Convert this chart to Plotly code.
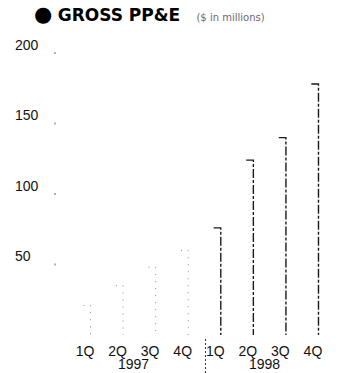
import plotly.graph_objects as go

# Gross property, plant & equipment by quarter ($ in millions)
quarters = ["1Q", "2Q", "3Q", "4Q", "1Q", "2Q", "3Q", "4Q"]
years = ["1997", "1997", "1997", "1997", "1998", "1998", "1998", "1998"]
gross_ppe = [21, 35, 48, 60, 76, 124, 140, 178]
y_ticks = [50, 100, 150, 200]
year_labels = ["1997", "1998"]

W, H = 339, 373
M_T, M_B = 40, 38
X_RANGE = [-2.61, 7.80]
Y_RANGE = [0, 209.2]

EDGE = 0.17   # right edge of each column, relative to its category
CAP = 0.22    # length of the top cap, drawn leftwards from the edge


def column_paths(idx):
    xs, ys = [], []
    for i in idx:
        v = gross_ppe[i]
        xs += [i + EDGE - CAP, i + EDGE, i + EDGE, None]
        ys += [v, v, 0, None]
    return xs, ys


idx_1997 = [i for i, y in enumerate(years) if y == "1997"]
idx_1998 = [i for i, y in enumerate(years) if y == "1998"]

fig = go.Figure()

x97, y97 = column_paths(idx_1997)
fig.add_trace(go.Scatter(
    x=x97, y=y97, mode="lines", hoverinfo="skip",
    line=dict(color="#8a8a8a", width=1, dash="1px,6px"),
))
x98, y98 = column_paths(idx_1998)
fig.add_trace(go.Scatter(
    x=x98, y=y98, mode="lines", hoverinfo="skip",
    line=dict(color="#1a1a1a", width=1.4, dash="9px,2px,3px,2px"),
))

# faint tick marks beside the value labels
fig.add_trace(go.Scatter(
    x=[-0.92] * len(y_ticks), y=y_ticks, mode="markers", hoverinfo="skip",
    marker=dict(color="#b0b0b0", size=2, symbol="square"),
))

annotations = []
for t in y_ticks:
    annotations.append(dict(
        x=-2.21, y=t, xref="x", yref="y", text=str(t), showarrow=False,
        xanchor="left", yanchor="middle", yshift=8,
        font=dict(family="Liberation Sans Narrow, Arial Narrow, sans-serif",
                  size=14, color="#111"),
    ))

for yl in year_labels:
    pos = [i for i, y in enumerate(years) if y == yl]
    center = (pos[1] + pos[2]) / 2
    annotations.append(dict(
        x=center, y=0, xref="x", yref="y", text=yl, showarrow=False,
        xanchor="center", yanchor="top", yshift=-19,
        font=dict(family="Liberation Sans, Arial, sans-serif", size=14,
                  color="#111"),
    ))

annotations.append(dict(
    x=32 / W, y=1 + (M_T - 14) / (H - M_T - M_B), xref="paper", yref="paper",
    xanchor="left", yanchor="middle", showarrow=False,
    text=("<span style='font-size:21px'>●</span> <b>GROSS PP&amp;E</b>"
          "   <span style='font-size:10px;color:#6a6a6a;font-weight:normal'>"
          "($ in millions)</span>"),
    font=dict(family="DejaVu Sans, sans-serif", size=17, color="#000"),
))

# dotted divider between the two years
plot_h = H - M_T - M_B
fig.add_shape(type="line", xref="x", yref="paper",
              x0=3.7, x1=3.7, y0=-4 / plot_h, y1=-38 / plot_h,
              line=dict(color="#333", width=1, dash="2px,2px"))

fig.update_layout(
    width=W, height=H,
    margin=dict(l=0, r=0, t=M_T, b=M_B),
    paper_bgcolor="white", plot_bgcolor="white",
    showlegend=False,
    annotations=annotations,
    xaxis=dict(range=X_RANGE, tickmode="array",
               tickvals=list(range(len(quarters))), ticktext=quarters,
               showgrid=False, zeroline=False, showline=False, ticks="",
               ticklabelstandoff=6,
               tickfont=dict(family="Liberation Sans, Arial, sans-serif",
                             size=14, color="#111"),
               fixedrange=True),
    yaxis=dict(range=Y_RANGE, showgrid=False, zeroline=False,
               showline=False, showticklabels=False, ticks="",
               fixedrange=True),
)

fig.write_html("out.html")
